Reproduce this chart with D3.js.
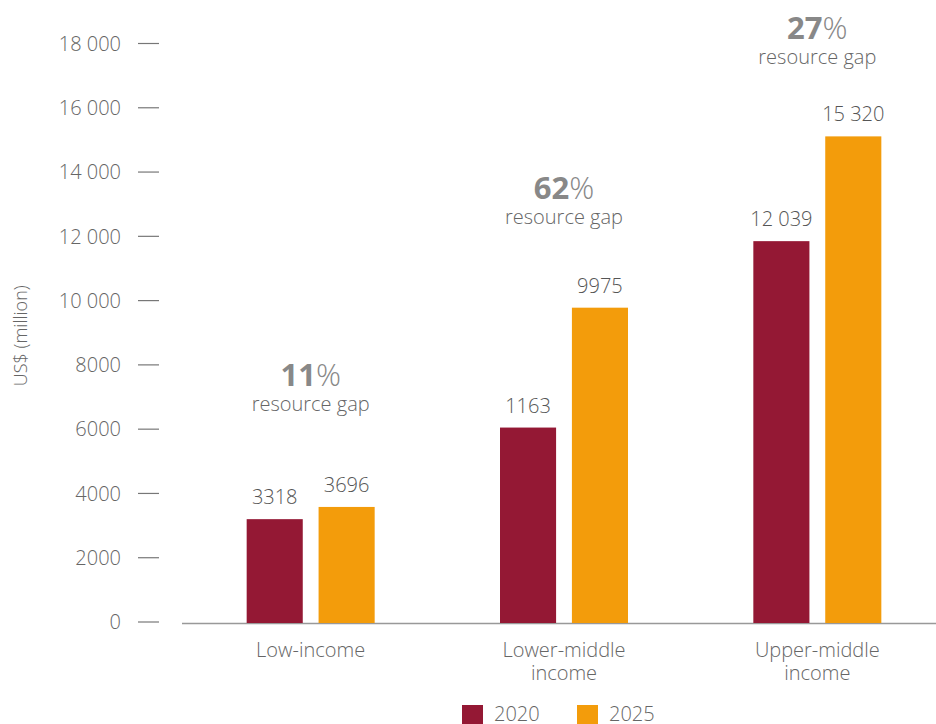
<!DOCTYPE html>
<html><head><meta charset="utf-8">
<script src="https://cdn.jsdelivr.net/npm/d3@7/dist/d3.min.js"></script>
<style>body{margin:0;background:#fff;}svg{display:block;font-family:"Open Sans",Lato,sans-serif;font-weight:300;}</style>
</head><body><svg id="c" width="936" height="724"></svg>
<script>
const categories = [["Low-income"], ["Lower-middle", "income"], ["Upper-middle", "income"]];
const series = ["2020", "2025"];
const values2020 = [3200, 6050, 11850];
const values2025 = [3580, 9780, 15110];
const labels2020 = ["3318", "1163", "12 039"];
const labels2025 = ["3696", "9975", "15 320"];
const gapPct = ["11", "62", "27"];
const gapY = [7340, 13160, 18130];
const yTicks = [0, 2000, 4000, 6000, 8000, 10000, 12000, 14000, 16000, 18000];
const colors = ["#941834", "#F39C0B"];

const svg = d3.select("#c");
const y = d3.scaleLinear().domain([0, 18000]).range([622, 43.5]);
const x0 = d3.scaleBand().domain(d3.range(3)).range([184, 944]).paddingInner(0).paddingOuter(0);
const x1 = d3.scaleBand().domain([0, 1]).range([-64, 64]).paddingInner(0.22).paddingOuter(0);

const ga = svg.append("g");
yTicks.forEach(t => {
  ga.append("line").attr("x1", 138).attr("x2", 159).attr("y1", y(t)).attr("y2", y(t))
    .attr("stroke", "#777").attr("stroke-width", 1.2);
  ga.append("text").attr("x", 121).attr("y", y(t)).attr("dy", "0.36em")
    .attr("text-anchor", "end").attr("fill", "#666").attr("font-size", 20)
    .text(t >= 10000 ? d3.format(",")(t).replace(",", " ") : t);
});
svg.append("text").attr("transform", `translate(27,${y(9000)+3}) rotate(-90)`)
  .attr("text-anchor", "middle").attr("fill", "#666").attr("font-size", 18).text("US$ (million)");

svg.append("line").attr("x1", 182).attr("x2", 936).attr("y1", 623.5).attr("y2", 623.5)
  .attr("stroke", "#999").attr("stroke-width", 1.5);

const vals = [values2020, values2025];
const labs = [labels2020, labels2025];
categories.forEach((cat, i) => {
  const cx = x0(i) + x0.bandwidth() / 2;
  [0, 1].forEach(s => {
    const bx = cx + x1(s);
    svg.append("rect").attr("x", bx).attr("width", x1.bandwidth())
      .attr("y", y(vals[s][i])).attr("height", 623 - y(vals[s][i]))
      .attr("fill", colors[s]);
    svg.append("text").attr("x", bx + x1.bandwidth() / 2).attr("y", y(vals[s][i]) - 15)
      .attr("text-anchor", "middle").attr("fill", "#555").attr("font-size", 20).text(labs[s][i]);
  });
  const t = svg.append("text").attr("text-anchor", "middle")
    .attr("fill", "#666").attr("font-size", 20);
  cat.forEach((line, k) => t.append("tspan").attr("x", cx).attr("y", 657 + k * 23).text(line));
  const ay = y(gapY[i]);
  const pt = svg.append("text").attr("x", cx).attr("y", ay).attr("text-anchor", "middle")
    .attr("fill", "#888").attr("font-size", 31);
  pt.append("tspan").attr("font-weight", "bold").text(gapPct[i]);
  pt.append("tspan").attr("font-weight", "300").text("%");
  svg.append("text").attr("x", cx).attr("y", ay + 25).attr("text-anchor", "middle")
    .attr("fill", "#666").attr("font-size", 20).text("resource gap");
});

const lx = [462, 577];
series.forEach((s, k) => {
  svg.append("rect").attr("x", lx[k]).attr("y", 705).attr("width", 21).attr("height", 21).attr("fill", colors[k]);
  svg.append("text").attr("x", lx[k] + 32).attr("y", 721).attr("fill", "#666").attr("font-size", 20).text(s);
});
</script></body></html>
